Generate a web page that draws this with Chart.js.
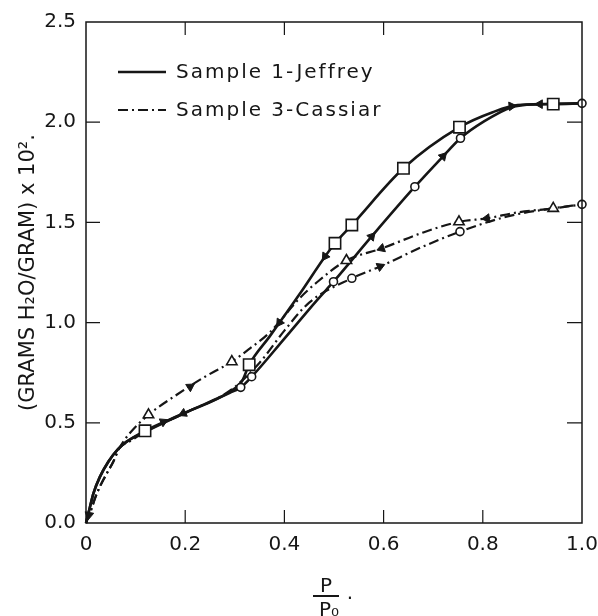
<!DOCTYPE html>
<html>
<head>
<meta charset="utf-8">
<script src="https://cdn.jsdelivr.net/npm/chart.js@4.4.0/dist/chart.umd.min.js"></script>
<style>
  html, body { margin: 0; padding: 0; background: #fff; }
  canvas { display: block; }
</style>
</head>
<body>
<canvas id="chart" width="598" height="616"></canvas>
<script>
// Sample 1 - Jeffrey, adsorption branch (solid line, circles)
const jeffreyAdsX = [0, 0.008, 0.015, 0.028, 0.045, 0.065, 0.082, 0.119, 0.2, 0.29, 0.312, 0.334, 0.4, 0.465, 0.499, 0.576, 0.663, 0.72, 0.755, 0.8, 0.858, 0.915, 1.0];
const jeffreyAdsY = [0, 0.08, 0.148, 0.23, 0.306, 0.37, 0.406, 0.455, 0.55, 0.65, 0.677, 0.73, 0.92, 1.11, 1.204, 1.43, 1.678, 1.83, 1.92, 2.0, 2.075, 2.09, 2.094];
// Sample 1 - Jeffrey, desorption branch (solid line, squares)
const jeffreyDesX = [0, 0.008, 0.015, 0.028, 0.045, 0.065, 0.082, 0.119, 0.2, 0.29, 0.315, 0.329, 0.37, 0.43, 0.482, 0.502, 0.536, 0.64, 0.753, 0.82, 0.87, 0.942, 1.0];
const jeffreyDesY = [0, 0.08, 0.148, 0.23, 0.306, 0.37, 0.406, 0.46, 0.55, 0.655, 0.71, 0.79, 0.93, 1.14, 1.33, 1.396, 1.487, 1.77, 1.975, 2.05, 2.085, 2.09, 2.094];
// Sample 3 - Cassiar, adsorption branch (dash-dot, circles)
const cassiarAdsX = [0, 0.008, 0.022, 0.038, 0.055, 0.067, 0.09, 0.119, 0.2, 0.29, 0.35, 0.4, 0.45, 0.536, 0.593, 0.68, 0.754, 0.85, 0.94, 1.0];
const cassiarAdsY = [0, 0.05, 0.148, 0.23, 0.306, 0.373, 0.41, 0.455, 0.55, 0.66, 0.8, 0.96, 1.1, 1.221, 1.28, 1.38, 1.454, 1.53, 1.57, 1.59];
// Sample 3 - Cassiar, desorption branch (dash-dot, triangles)
const cassiarDesX = [0, 0.008, 0.022, 0.038, 0.055, 0.067, 0.089, 0.126, 0.183, 0.24, 0.294, 0.33, 0.37, 0.43, 0.465, 0.525, 0.596, 0.68, 0.752, 0.808, 0.87, 0.942, 1.0];
const cassiarDesY = [0, 0.05, 0.148, 0.23, 0.306, 0.373, 0.45, 0.54, 0.64, 0.73, 0.805, 0.87, 0.95, 1.12, 1.2, 1.31, 1.37, 1.45, 1.503, 1.52, 1.55, 1.57, 1.59];

// measured points (markers)
const jeffreyCircleX = [0.119, 0.312, 0.334, 0.499, 0.663, 0.755, 0.942, 1.0];
const jeffreyCircleY = [0.455, 0.677, 0.73, 1.204, 1.678, 1.92, 2.09, 2.094];
const jeffreySquareX = [0.119, 0.329, 0.502, 0.536, 0.64, 0.753, 0.942];
const jeffreySquareY = [0.46, 0.79, 1.396, 1.487, 1.77, 1.975, 2.09];
const cassiarCircleX = [0.536, 0.754, 1.0];
const cassiarCircleY = [1.221, 1.454, 1.59];
const cassiarTriangleX = [0.126, 0.294, 0.525, 0.752, 0.942];
const cassiarTriangleY = [0.54, 0.805, 1.31, 1.503, 1.57];

// direction arrows drawn on the curves
const arrowX = [0.006, 0.156, 0.196, 0.39, 0.482, 0.576, 0.72, 0.858, 0.915, 0.21, 0.593, 0.596, 0.808];
const arrowY = [0.04, 0.505, 0.547, 1.0, 1.33, 1.43, 1.83, 2.08, 2.09, 0.68, 1.28, 1.37, 1.52];
const arrowTurn = [190, 65, 245, 214, 214, 41, 43, 85, 270, 57, 67, 251, 263];

const xTicks = [0, 0.2, 0.4, 0.6, 0.8, 1.0];
const yTicks = [0, 0.5, 1.0, 1.5, 2.0, 2.5];

const pts = (xs, ys) => xs.map((x, i) => ({ x, y: ys[i] }));
const INK = "#161616";
const FONT = "'DejaVu Sans', sans-serif";
const dashDot = [10, 4, 2, 4];

const lineSet = (label, xs, ys, dash) => ({
  label,
  data: pts(xs, ys),
  showLine: true,
  borderColor: INK,
  borderWidth: dash.length ? 2.2 : 2.6,
  borderDash: dash,
  pointRadius: 0,
  cubicInterpolationMode: "monotone",
  fill: false,
  order: 3,
});

const markerSet = (label, xs, ys, style, radius) => ({
  label,
  data: pts(xs, ys),
  showLine: false,
  pointStyle: style,
  pointRadius: radius,
  pointBackgroundColor: "#fff",
  pointBorderColor: INK,
  pointBorderWidth: 1.6,
  order: 0,
});

// frame with inward ticks on all four sides
const framePlugin = {
  id: "frame",
  afterDatasetsDraw(chart) {
    const { ctx, chartArea: a, scales } = chart;
    ctx.save();
    ctx.strokeStyle = INK;
    ctx.lineWidth = 1.5;
    ctx.strokeRect(a.left, a.top, a.right - a.left, a.bottom - a.top);
    ctx.lineWidth = 1.2;
    xTicks.slice(1, -1).forEach(v => {
      const px = scales.x.getPixelForValue(v);
      ctx.beginPath();
      ctx.moveTo(px, a.bottom); ctx.lineTo(px, a.bottom - 13);
      ctx.moveTo(px, a.top); ctx.lineTo(px, a.top + 13);
      ctx.stroke();
    });
    yTicks.slice(1, -1).forEach(v => {
      const py = scales.y.getPixelForValue(v);
      ctx.beginPath();
      ctx.moveTo(a.left, py); ctx.lineTo(a.left + 14, py);
      ctx.moveTo(a.right, py); ctx.lineTo(a.right - 15, py);
      ctx.stroke();
    });
    ctx.restore();
  },
};

// legend in the upper left of the plot, and the P/P0 axis title
const notesPlugin = {
  id: "notes",
  afterDraw(chart) {
    const { ctx, chartArea: a } = chart;
    ctx.save();
    ctx.fillStyle = INK;
    ctx.strokeStyle = INK;
    ctx.font = "20px " + FONT;
    ctx.letterSpacing = "2px";
    ctx.textBaseline = "middle";
    const rows = [
      { text: "Sample 1-Jeffrey", dash: [], width: 2.6 },
      { text: "Sample 3-Cassiar", dash: dashDot, width: 2.2 },
    ];
    rows.forEach((r, i) => {
      const y = a.top + 50 + i * 38;
      ctx.beginPath();
      ctx.setLineDash(r.dash);
      ctx.lineWidth = r.width;
      ctx.moveTo(a.left + 32, y);
      ctx.lineTo(a.left + 80, y);
      ctx.stroke();
      ctx.setLineDash([]);
      ctx.fillText(r.text, a.left + 90, y + 1);
    });

    // P / P0 fraction under the x axis
    ctx.letterSpacing = "0px";
    const cx = (a.left + a.right) / 2 - 8;
    ctx.textAlign = "center";
    ctx.textBaseline = "alphabetic";
    ctx.font = "20px " + FONT;
    ctx.fillText("P", cx, a.bottom + 69);
    ctx.lineWidth = 2;
    ctx.beginPath();
    ctx.moveTo(cx - 13, a.bottom + 73);
    ctx.lineTo(cx + 13, a.bottom + 73);
    ctx.stroke();
    ctx.fillText("P\u2080", cx + 3, a.bottom + 93);
    ctx.fillText(".", cx + 24, a.bottom + 76);
    ctx.restore();
  },
};

new Chart(document.getElementById("chart"), {
  type: "scatter",
  data: {
    datasets: [
      lineSet("Sample 1-Jeffrey adsorption", jeffreyAdsX, jeffreyAdsY, []),
      lineSet("Sample 1-Jeffrey desorption", jeffreyDesX, jeffreyDesY, []),
      lineSet("Sample 3-Cassiar adsorption", cassiarAdsX, cassiarAdsY, dashDot),
      lineSet("Sample 3-Cassiar desorption", cassiarDesX, cassiarDesY, dashDot),
      markerSet("Jeffrey squares", jeffreySquareX, jeffreySquareY, "rect", 8),
      markerSet("Jeffrey circles", jeffreyCircleX, jeffreyCircleY, "circle", 4),
      markerSet("Cassiar circles", cassiarCircleX, cassiarCircleY, "circle", 4),
      markerSet("Cassiar triangles", cassiarTriangleX, cassiarTriangleY, "triangle", 6),
      {
        label: "arrows",
        data: pts(arrowX, arrowY),
        showLine: false,
        pointStyle: "triangle",
        rotation: arrowTurn,
        pointRadius: 5,
        pointBackgroundColor: INK,
        pointBorderColor: INK,
        pointBorderWidth: 1,
        order: 1,
      },
    ],
  },
  options: {
    responsive: false,
    animation: false,
    devicePixelRatio: 1,
    layout: { padding: { top: 22, right: 16, bottom: 0, left: 0 } },
    clip: false,
    plugins: {
      legend: { display: false },
      tooltip: { enabled: false },
    },
    scales: {
      x: {
        type: "linear",
        min: 0,
        max: 1,
        afterBuildTicks: s => { s.ticks = xTicks.map(value => ({ value })); },
        afterFit: s => { s.height = 93; s.paddingLeft = 0; s.paddingRight = 0; },
        grid: { display: false, drawTicks: false },
        border: { display: false },
        ticks: {
          padding: 10,
          color: INK,
          font: { family: FONT, size: 20 },
          callback: v => (v === 0 ? "0" : v.toFixed(1)),
        },
      },
      y: {
        type: "linear",
        min: 0,
        max: 2.5,
        afterBuildTicks: s => { s.ticks = yTicks.map(value => ({ value })); },
        afterFit: s => { s.width = 86; s.paddingTop = 0; s.paddingBottom = 0; },
        grid: { display: false, drawTicks: false },
        border: { display: false },
        title: {
          display: true,
          text: "(GRAMS H\u2082O/GRAM) x 10\u00b2.",
          color: INK,
          font: { family: FONT, size: 21 },
          padding: { top: 16, bottom: 0 },
        },
        ticks: {
          padding: 10,
          color: INK,
          font: { family: FONT, size: 20 },
          callback: v => v.toFixed(1),
        },
      },
    },
  },
  plugins: [framePlugin, notesPlugin],
});
</script>
</body>
</html>
